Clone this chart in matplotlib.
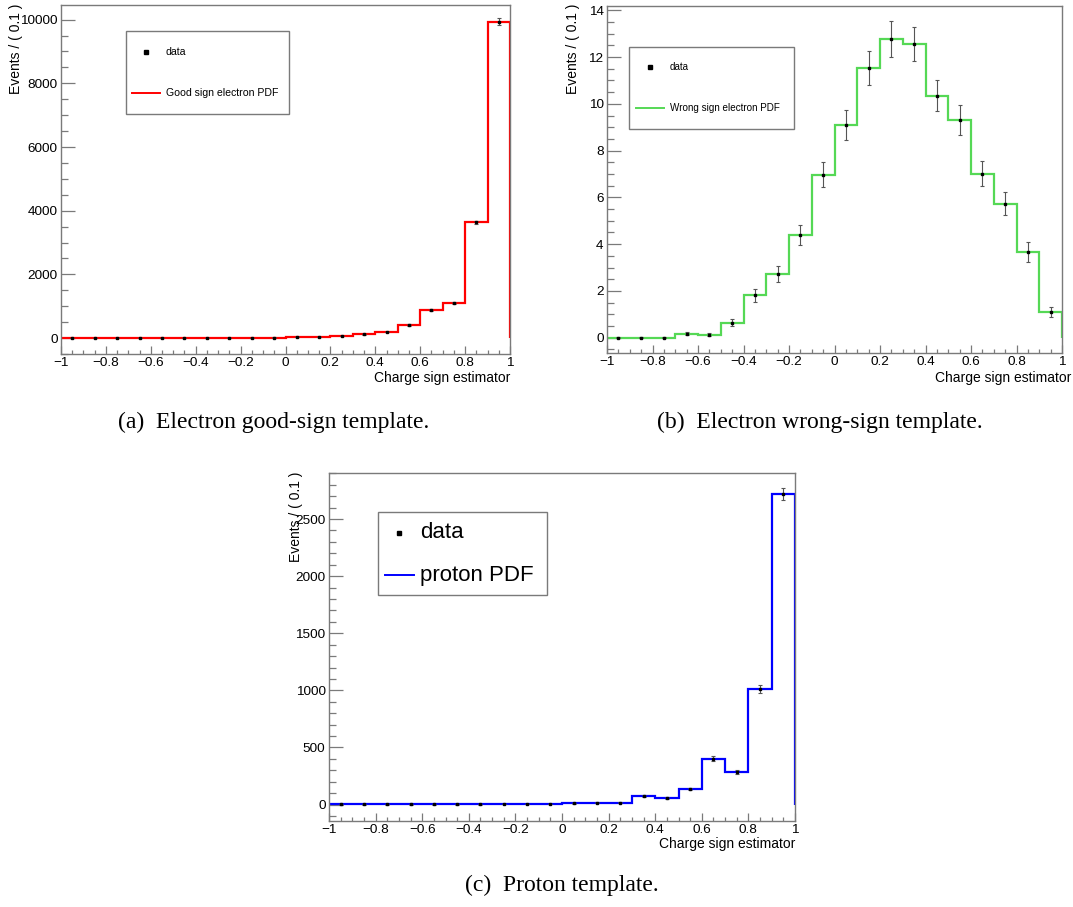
import numpy as np
import matplotlib
matplotlib.use("Agg")
import matplotlib.pyplot as plt
from matplotlib.ticker import MultipleLocator, FuncFormatter
from matplotlib.lines import Line2D
from matplotlib.patches import Rectangle

# ---------------- data ----------------
bin_edges = [-1.0, -0.9, -0.8, -0.7, -0.6, -0.5, -0.4, -0.3, -0.2, -0.1, 0.0,
             0.1, 0.2, 0.3, 0.4, 0.5, 0.6, 0.7, 0.8, 0.9, 1.0]
bin_centers = [-0.95, -0.85, -0.75, -0.65, -0.55, -0.45, -0.35, -0.25, -0.15, -0.05,
               0.05, 0.15, 0.25, 0.35, 0.45, 0.55, 0.65, 0.75, 0.85, 0.95]

good_values = [2, 2, 2, 2, 3, 3, 4, 5, 12, 15,
               28, 40, 62, 115, 190, 410, 890, 1100, 3630, 9940]
good_errors = [2, 2, 2, 2, 2, 2, 2, 3, 4, 4,
               5, 7, 8, 11, 14, 20, 30, 33, 60, 100]

wrong_values = [0.0, 0.0, 0.0, 0.18, 0.14, 0.65, 1.82, 2.73, 4.40, 6.97,
                9.08, 11.52, 12.77, 12.55, 10.34, 9.30, 7.01, 5.73, 3.67, 1.10]
wrong_errors = [0.02, 0.02, 0.02, 0.06, 0.05, 0.14, 0.27, 0.34, 0.43, 0.53,
                0.64, 0.72, 0.75, 0.73, 0.66, 0.63, 0.54, 0.49, 0.43, 0.23]

proton_values = [1, 1, 1, 1, 1, 1, 1, 2, 5, 5,
                 10, 17, 17, 78, 60, 136, 402, 283, 1012, 2716]
proton_errors = [1, 1, 1, 1, 1, 1, 1, 1, 2, 2,
                 3, 4, 4, 9, 8, 12, 20, 17, 32, 52]

x_label = "Charge sign estimator"
y_label = "Events / ( 0.1 )"

# ---------------- layout helpers ----------------
W, H = 1073, 907
fig = plt.figure(figsize=(W / 100, H / 100), dpi=100)
plt.rcParams['font.family'] = ['Liberation Sans', 'DejaVu Sans']

def fx(x):
    return x / W

def fy(y):
    return 1 - y / H

def make_axes(l, t, r, b):
    return fig.add_axes([fx(l), fy(b), (r - l) / W, (b - t) / H])

FRAME = '#7a7a7a'

def fmt(v, pos):
    s = "%g" % round(v, 6)
    if s == "-0":
        s = "0"
    return s.replace("-", "\u2212")

def style_axes(ax, ylim, ymaj, ymin):
    ax.set_xlim(-1, 1)
    ax.set_ylim(*ylim)
    for s in ax.spines.values():
        s.set_color(FRAME)
        s.set_linewidth(1.0)
    ax.xaxis.set_major_locator(MultipleLocator(0.2))
    ax.xaxis.set_minor_locator(MultipleLocator(0.05))
    ax.yaxis.set_major_locator(MultipleLocator(ymaj))
    ax.yaxis.set_minor_locator(MultipleLocator(ymin))
    ax.xaxis.set_major_formatter(FuncFormatter(fmt))
    ax.yaxis.set_major_formatter(FuncFormatter(fmt))
    ax.tick_params(axis='both', which='both', direction='in', color=FRAME,
                   top=False, right=False, labelsize=9.7, pad=2.5, width=0.9)
    ax.tick_params(axis='y', which='major', length=10)
    ax.tick_params(axis='y', which='minor', length=5)
    ax.tick_params(axis='x', which='major', length=5.5)
    ax.tick_params(axis='x', which='minor', length=3)

def draw_panel(ax, values, errors, color):
    ax.stairs(values, bin_edges, baseline=0, fill=False, color=color,
              linewidth=1.6, zorder=2)
    ax.errorbar(bin_centers, values, yerr=errors, fmt='s', color='black',
                markersize=1.8, ecolor='#555555', elinewidth=0.8, capsize=1.3,
                capthick=0.8, zorder=3)

def legend_box(l, t, r, b, marker_xy, line_x, line_y, text_x, labels, color, fs):
    fig.add_artist(Rectangle((fx(l), fy(b)), (r - l) / W, (b - t) / H,
                             transform=fig.transFigure, facecolor='white',
                             edgecolor=FRAME, linewidth=1.0, zorder=5))
    mx, my = marker_xy
    fig.add_artist(Line2D([fx(mx)], [fy(my)], marker='s', markersize=2.3,
                          color='black', linestyle='none',
                          transform=fig.transFigure, zorder=6))
    fig.add_artist(Line2D([fx(line_x[0]), fx(line_x[1])], [fy(line_y), fy(line_y)],
                          color=color, linewidth=1.4,
                          transform=fig.transFigure, zorder=6))
    fig.text(fx(text_x), fy(my), labels[0], fontsize=fs, ha='left', va='center',
             zorder=7)
    fig.text(fx(text_x), fy(line_y), labels[1], fontsize=fs, ha='left',
             va='center', zorder=7)

def axis_labels(ax, ylab_x, ylab_top, xlab_right, xlab_y):
    fig.text(fx(ylab_x), fy(ylab_top), y_label, rotation=90, ha='center',
             va='top', fontsize=10)
    fig.text(fx(xlab_right), fy(xlab_y), x_label, ha='right', va='center',
             fontsize=10)

# ---------------- panel (a) ----------------
axA = make_axes(61, 5, 510, 354)
style_axes(axA, (-500, 10460), 2000, 500)
draw_panel(axA, good_values, good_errors, '#ff0000')
axis_labels(axA, 16, 4, 510, 378)
legend_box(126, 31, 289, 114, (146, 52), (132, 160), 93, 166,
           ["data", "Good sign electron PDF"], '#ff0000', 7.6)

# ---------------- panel (b) ----------------
axB = make_axes(607, 6, 1062, 353)
style_axes(axB, (-0.65, 14.18), 2, 0.5)
draw_panel(axB, wrong_values, wrong_errors, '#55d855')
axis_labels(axB, 573, 4, 1071, 378)
legend_box(629, 47, 794, 129, (650, 67), (636, 664), 108, 670,
           ["data", "Wrong sign electron PDF"], '#55d855', 7.1)

# ---------------- panel (c) ----------------
axC = make_axes(329, 473, 795, 821)
style_axes(axC, (-144, 2903), 500, 100)
draw_panel(axC, proton_values, proton_errors, '#0000ff')
axis_labels(axC, 296, 472, 795, 844)
legend_box(378, 512, 547, 595, (399, 533), (385, 414), 575, 420,
           ["data", "proton PDF"], '#0000ff', 16)

# ---------------- captions ----------------
cap_font = ['Liberation Serif', 'DejaVu Serif']
fig.text(fx(274), fy(422), "(a)  Electron good-sign template.", ha='center',
         va='center', fontsize=17, family=cap_font)
fig.text(fx(820), fy(422), "(b)  Electron wrong-sign template.", ha='center',
         va='center', fontsize=17, family=cap_font)
fig.text(fx(562), fy(885), "(c)  Proton template.", ha='center',
         va='center', fontsize=17, family=cap_font)

fig.savefig("out.png", dpi=100)
